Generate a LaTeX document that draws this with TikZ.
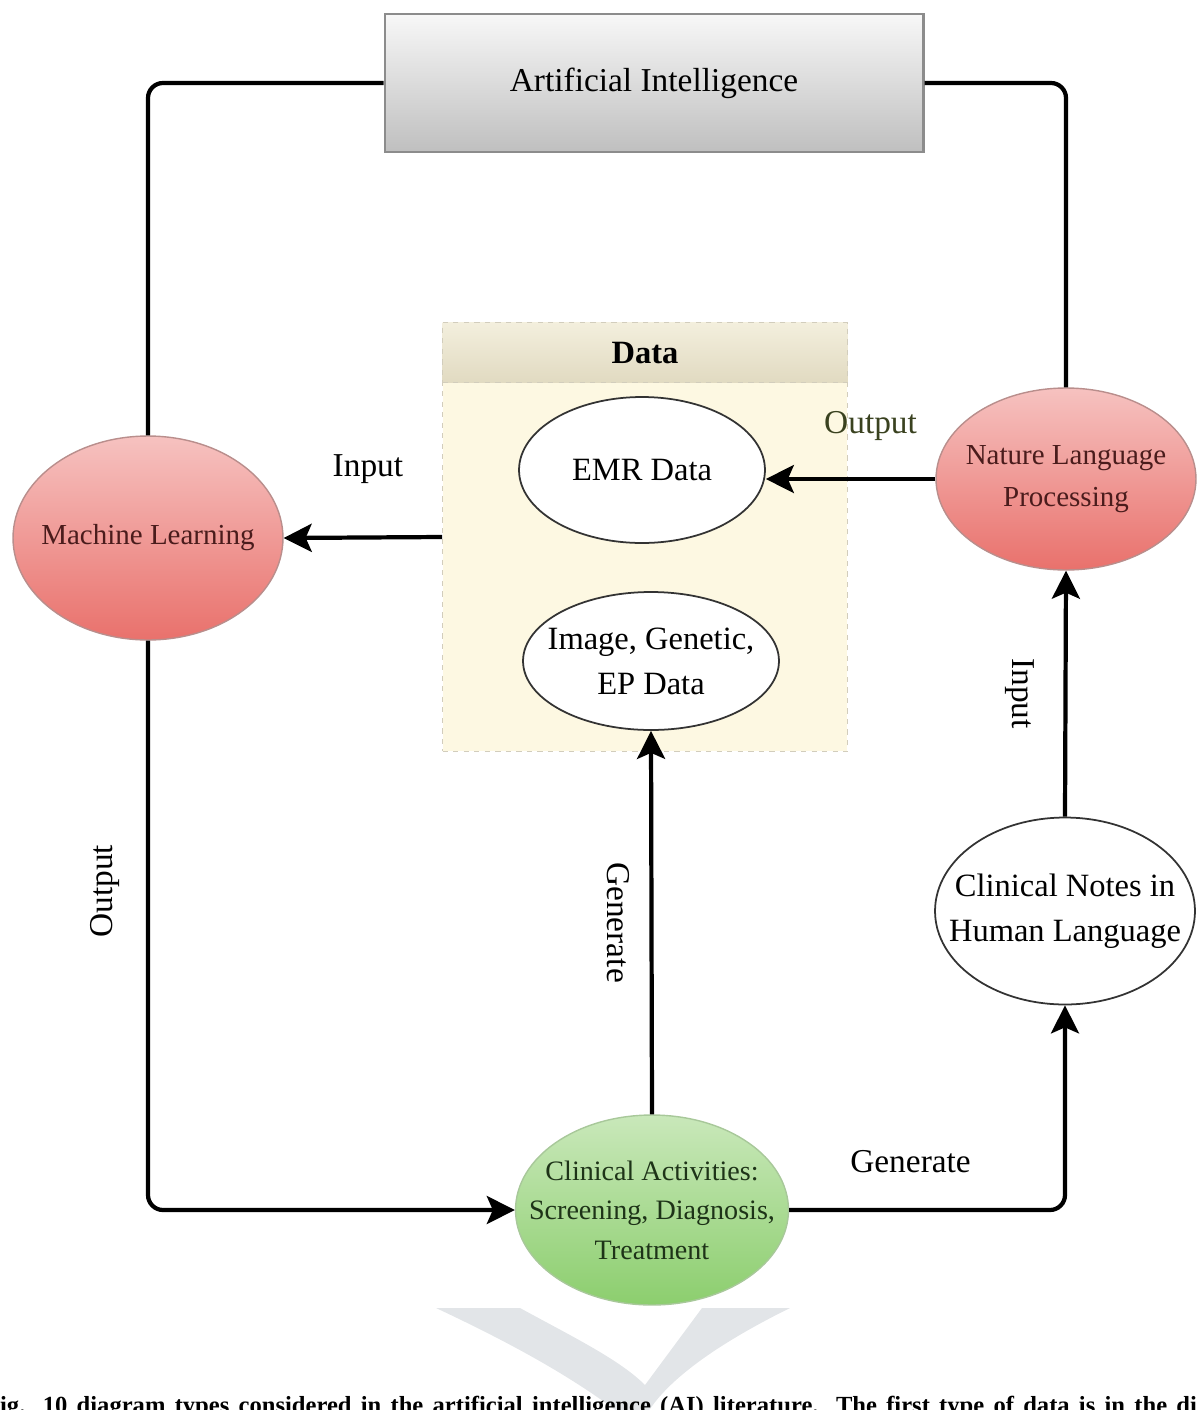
\documentclass[tikz,border=0pt]{standalone}
\usepackage{fontspec}
\setmainfont{Liberation Serif}
\usepackage{xcolor}
\usetikzlibrary{arrows.meta,shapes.geometric,positioning,calc}

\definecolor{techtop}{HTML}{F6C2C0}
\definecolor{techbot}{HTML}{E9716C}
\definecolor{techline}{HTML}{B98E8C}
\definecolor{techtext}{HTML}{4A1C1C}
\definecolor{acttop}{HTML}{C9E8BA}
\definecolor{actbot}{HTML}{8CCE6E}
\definecolor{actline}{HTML}{A8C89A}
\definecolor{acttext}{HTML}{1E3318}
\definecolor{poolfill}{HTML}{FDF8E2}
\definecolor{poolline}{HTML}{D2CDBC}
\definecolor{headtop}{HTML}{F3EFDD}
\definecolor{headbot}{HTML}{E1DAC1}
\definecolor{outtext}{HTML}{3A4220}
\definecolor{wmark}{HTML}{E2E5E8}

\begin{document}
\begin{tikzpicture}[
  x=0.02cm, y=-0.02cm,
  aibox/.style={rectangle, draw=black!45, line width=1.2pt, top color=black!3, bottom color=black!25,
                minimum width=10.78cm, minimum height=2.76cm, font=\fontsize{19}{23}\selectfont},
  pool/.style={rectangle, draw=poolline, dashed, fill=poolfill, minimum width=8.1cm, minimum height=8.58cm},
  poolhead/.style={rectangle, draw=poolline, dashed, top color=headtop, bottom color=headbot,
                   minimum width=8.1cm, minimum height=1.2cm, font=\fontsize{18.5}{22}\selectfont\bfseries},
  oval/.style={ellipse, inner sep=-0.7cm, align=center},
  tech/.style={oval, draw=techline, line width=0.8pt, top color=techtop, bottom color=techbot,
               text=techtext, font=\fontsize{16.5}{24}\selectfont},
  act/.style={oval, draw=actline, line width=0.8pt, top color=acttop, bottom color=actbot,
              text=acttext, font=\fontsize{16}{22.5}\selectfont},
  store/.style={oval, draw=black!80, line width=1pt, fill=white, font=\fontsize{18.5}{25.5}\selectfont},
  lbl/.style={font=\fontsize{19}{23}\selectfont},
  capt/.style={anchor=base, inner sep=0pt, font=\fontsize{14}{16}\selectfont\bfseries},
  link/.style={line width=2.4pt, rounded corners=0.3cm},
  arr/.style={link, -{Stealth[length=0.56cm, width=0.56cm, inset=0.12cm]}}
]
\useasboundingbox (0,0) rectangle (1197,1410);

\node[aibox] (ai) at (654,83) {Artificial Intelligence};

\node[pool] (data) at (645,537) {};
\node[poolhead, anchor=north] (datahead) at (data.north) {Data};

\node[store, minimum width=4.92cm, minimum height=2.92cm] (emr) at (642,470) {EMR Data};
\node[store, minimum width=5.12cm, minimum height=2.76cm] (img) at (651,661) {Image, Genetic,\\EP Data};

\node[tech, minimum width=5.4cm, minimum height=4.08cm] (ml) at (148,538) {Machine Learning};
\node[tech, minimum width=5.2cm, minimum height=3.64cm] (nlp) at (1066,479) {Nature Language\\Processing};

\node[store, minimum width=5.2cm, minimum height=3.74cm] (notes) at (1065,911) {Clinical Notes in\\Human Language};
\node[act, minimum width=5.46cm, minimum height=3.8cm] (clin) at (652,1210) {Clinical Activities:\\Screening, Diagnosis,\\Treatment};

\draw[link] (ai.west) -| (ml.north);
\draw[link] (ai.east) -| (nlp.north);

\draw[arr] (data.west) -- node[lbl, midway, xshift=0.1cm, yshift=1.36cm]{Input} (ml.east);
\draw[arr] (nlp.west) -- node[lbl, midway, text=outtext, xshift=0.4cm, yshift=1.06cm]{Output} (emr.east |- nlp.west);

\draw[arr] (ml.south) |- node[lbl, pos=0.22, xshift=-0.86cm, rotate=90]{Output} (clin.west);
\draw[arr] (clin.north) -- node[lbl, midway, xshift=-0.66cm, rotate=-90]{Generate} (img.south);
\draw[arr] (clin.east) -| node[lbl, pos=0.22, yshift=0.96cm]{Generate} (notes.south);
\draw[arr] (notes.north) -- node[lbl, midway, xshift=-0.92cm, rotate=-90]{Input} (nlp.south);

\fill[wmark] (436,1308) -- (520,1308) .. controls (575,1338) and (620,1360) .. (645,1385)
  -- (702,1308) -- (790,1308) .. controls (705,1350) and (665,1385) .. (648,1412)
  -- (618,1412) .. controls (565,1372) and (500,1338) .. cycle;

\node[capt] (cap) at (598.5,1413) {\makebox[23.94cm][s]{ig. 10 diagram types considered in the artificial intelligence (AI) literature. The first type of data is in the di}};
\end{tikzpicture}
\end{document}
